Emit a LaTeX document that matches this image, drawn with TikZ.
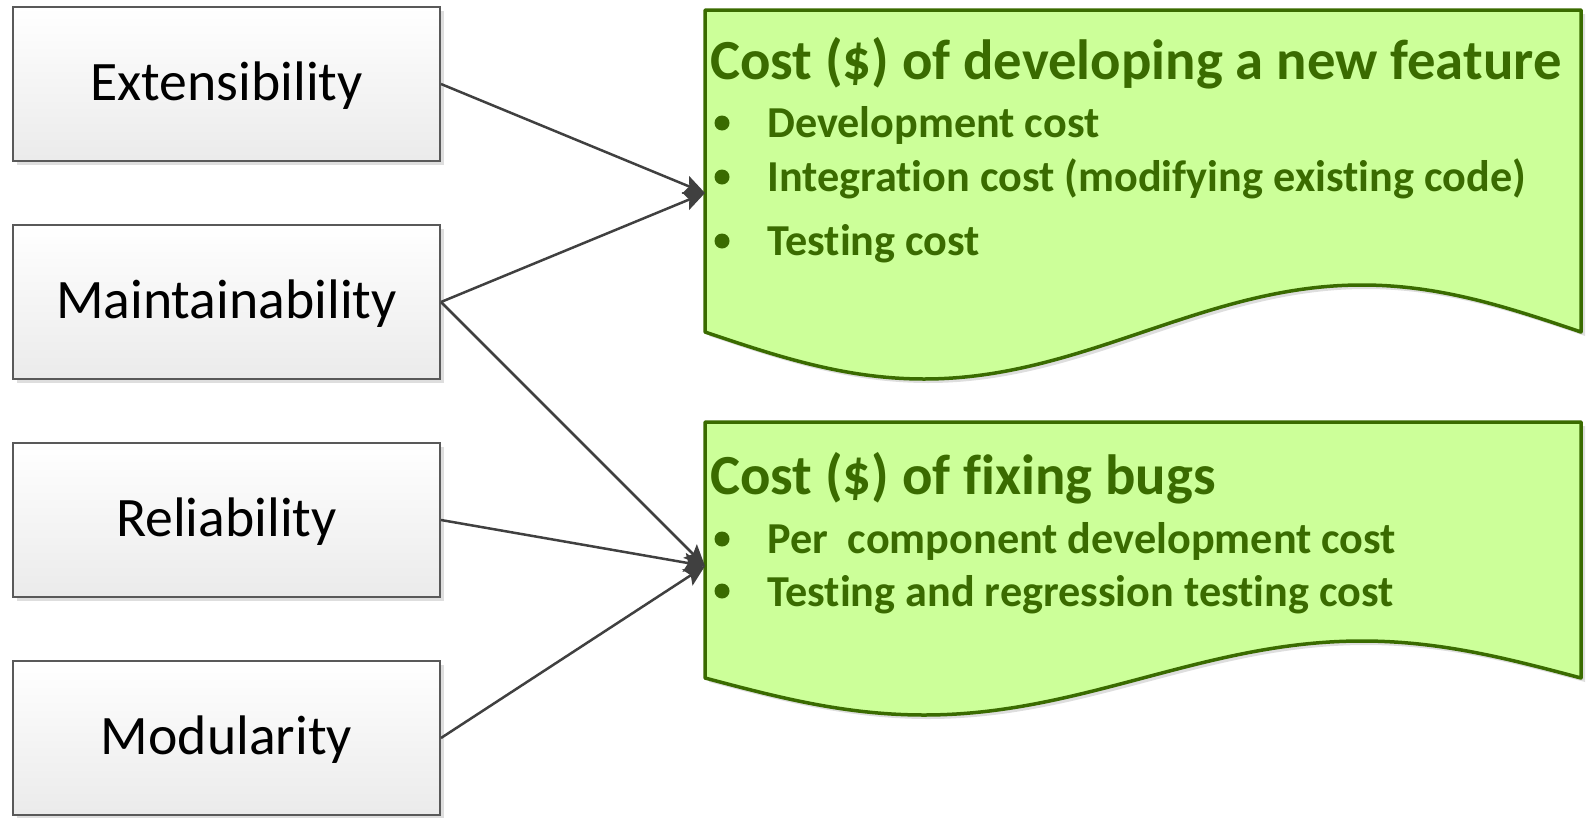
\documentclass[tikz,border=0pt]{standalone}
\usepackage{fontspec}
\setmainfont[Ligatures=NoCommon]{Carlito}
\usetikzlibrary{arrows.meta}
\definecolor{docfill}{HTML}{CCFF99}
\definecolor{docline}{HTML}{3A6B00}
\definecolor{boxline}{HTML}{595959}
\definecolor{arrcol}{HTML}{404040}
\begin{document}
\begin{tikzpicture}[x=1pt,y=-1pt,
  softshadow/.style={preaction={fill=black!13,transform canvas={xshift=4pt,yshift=-4pt}}},
  qbox/.style={softshadow,draw=boxline,line width=2pt,top color=white,bottom color=black!8,
    minimum width=427pt,minimum height=154pt,inner sep=0pt,text height=44pt,text depth=10.6pt,
    font=\fontsize{55.7}{60}\selectfont},
  docshape/.style={softshadow,draw=docline,fill=docfill,line width=3.5pt,line join=round},
  doctitle/.style={anchor=base west,inner sep=0pt,text=docline,font=\bfseries\fontsize{56.7}{60}\selectfont},
  docitem/.style={anchor=base west,inner sep=0pt,text=docline,font=\bfseries\fontsize{44.2}{50}\selectfont},
  bul/.style={circle,fill=docline,minimum size=15pt,inner sep=0pt},
  conn/.style={draw=arrcol,line width=2.5pt,-{Stealth[length=21pt,width=19pt,inset=4pt]}}]
\useasboundingbox (0,0) rectangle (1591,817);

% left boxes
\node[qbox] (ext) at (226.5,84) {Extensibility};
\node[qbox] (mai) at (226.5,302) {Maintainability};
\node[qbox] (rel) at (226.5,520) {Reliability};
\node[qbox] (mod) at (226.5,738) {Modularity};

% document shapes
\draw[docshape] (705,10) -- (1581,10) -- (1581,332) sin (1362,285) cos (1143,332) sin (924,379) cos (705,332) -- cycle;
\draw[docshape] (705,422) -- (1581,422) -- (1581,678) sin (1362,641) cos (1143,678) sin (924,715) cos (705,678) -- cycle;

\coordinate (doc1in) at (705,193);
\coordinate (doc2in) at (705,566);

% texts of document 1
\node[doctitle] (t1) at (710,79) {Cost (\$) of developing a new feature};
\node[bul] (b11) at (722,123) {};
\node[docitem] (i11) at (767,137) {Development cost};
\node[bul] (b12) at (722,177) {};
\node[docitem] (i12) at (767,191) {Integration cost (modifying existing code)};
\node[bul] (b13) at (722,241) {};
\node[docitem] (i13) at (767,255) {Testing cost};

% texts of document 2
\node[doctitle] (t2) at (710,494) {Cost (\$) of fixing bugs};
\node[bul] (b21) at (722,539) {};
\node[docitem] (i21) at (767,553) {Per\ \ component development cost};
\node[bul] (b22) at (722,591) {};
\node[docitem] (i22) at (767,606) {Testing and regression testing cost};

% connectors
\draw[conn] (ext.east) -- (doc1in);
\draw[conn] (mai.east) -- (doc1in);
\draw[conn] (mai.east) -- (doc2in);
\draw[conn] (rel.east) -- (doc2in);
\draw[conn] (mod.east) -- (doc2in);
\end{tikzpicture}
\end{document}
